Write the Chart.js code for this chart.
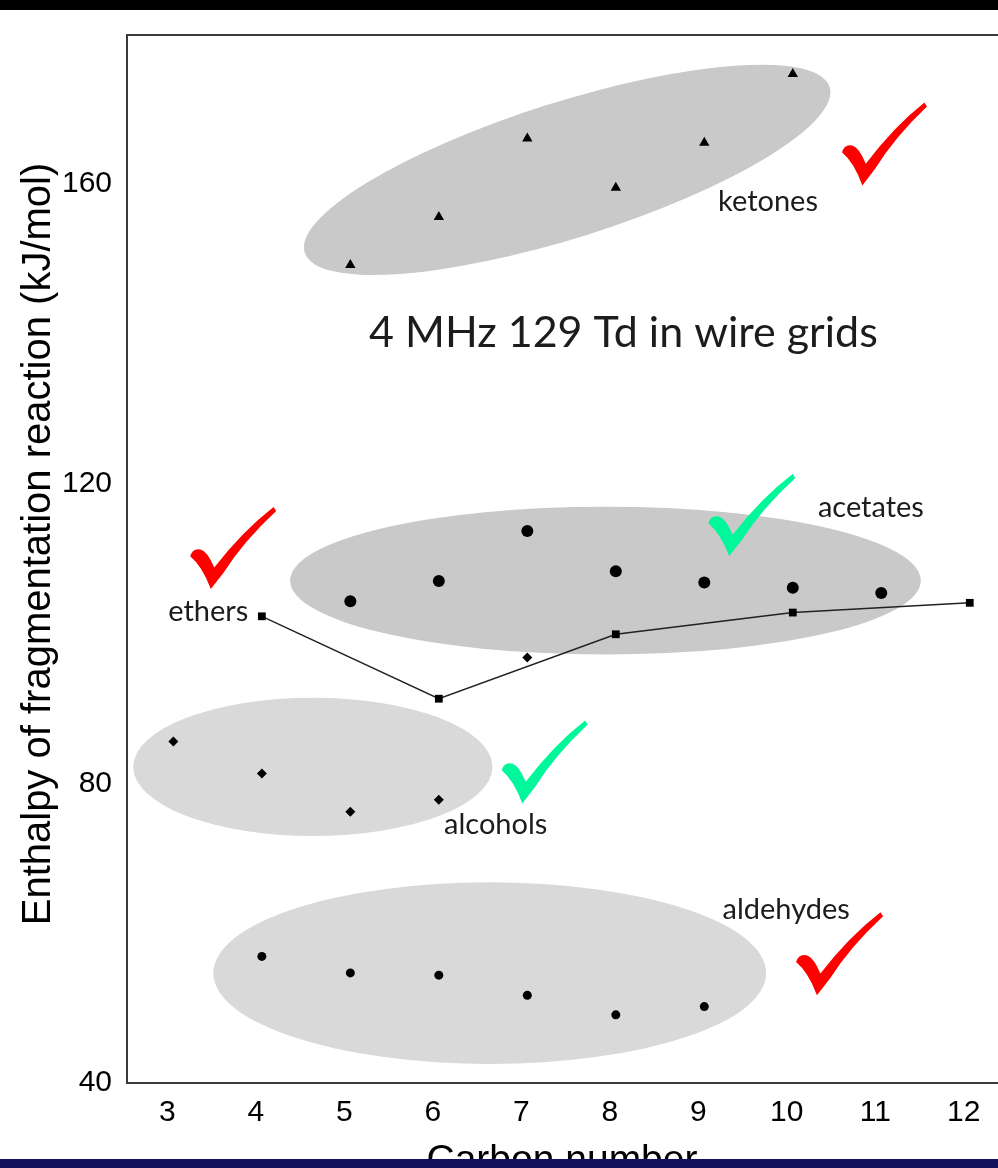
<!DOCTYPE html>
<html>
<head>
<meta charset="utf-8">
<title>Enthalpy of fragmentation reaction</title>
<script src="https://cdn.jsdelivr.net/npm/chart.js@4.4.0/dist/chart.umd.min.js"></script>
<style>
  html, body { margin: 0; padding: 0; background: #fff; overflow: hidden; }
  body { width: 998px; height: 1168px; position: relative; }
  #chart { position: absolute; left: 0; top: 0; }
  .top-bar { position: absolute; left: 0; top: 0; width: 998px; height: 10px; background: #000; }
  .bottom-bar { position: absolute; left: 0; bottom: 0; width: 998px; height: 9px; background: #12125c; }
</style>
</head>
<body>
<canvas id="chart" width="1020" height="1168"></canvas>
<div class="top-bar"></div>
<div class="bottom-bar"></div>
<script>
"use strict";

// carbon number vs enthalpy of fragmentation (kJ/mol), one pair of arrays per family
const ketoneC = [5, 6, 7, 8, 9, 10];
const ketoneH = [149.2, 155.6, 166.1, 159.5, 165.5, 174.7];

const acetateC = [5, 6, 7, 8, 9, 10, 11];
const acetateH = [104.3, 107.0, 113.7, 108.3, 106.8, 106.1, 105.4];

const etherC = [4, 6, 8, 10, 12];
const etherH = [102.3, 91.3, 99.9, 102.8, 104.1];

const alcoholC = [3, 4, 5, 6, 7];
const alcoholH = [85.6, 81.3, 76.2, 77.8, 96.8];

const aldehydeC = [4, 5, 6, 7, 8, 9];
const aldehydeH = [56.9, 54.7, 54.4, 51.7, 49.1, 50.2];

const xTicks = [3, 4, 5, 6, 7, 8, 9, 10, 11, 12];
const yTicks = [40, 80, 120, 160];

const xTitle = "Carbon number";
const yTitle = "Enthalpy of fragmentation reaction (kJ/mol)";

// shaded groups: centre in data units, half axes in x / y units, tilt in degrees
const groups = [
  { cx: 7.45, cy: 161.9, ax: 3.11, by: 9.07, tilt: -17.5, fill: "#c9c9c9" },
  { cx: 7.883, cy: 107.07, ax: 3.564, by: 9.87, tilt: 0, fill: "#c9c9c9" },
  { cx: 4.576, cy: 82.2, ax: 2.03, by: 9.23, tilt: 0, fill: "#d9d9d9" },
  { cx: 6.575, cy: 54.67, ax: 3.124, by: 12.13, tilt: 0, fill: "#d9d9d9" }
];

// text notes, centred on a data position
const notes = [
  { text: "ketones", x: 9.72, y: 157.7, size: 29 },
  { text: "4 MHz 129 Td in wire grids", x: 8.086, y: 140.1, size: 43 },
  { text: "acetates", x: 10.883, y: 116.8, size: 29 },
  { text: "ethers", x: 3.395, y: 102.9, size: 29 },
  { text: "alcohols", x: 6.643, y: 74.5, size: 29 },
  { text: "aldehydes", x: 9.925, y: 63.2, size: 29 }
];

// check marks: top-left corner in data units, box size in px
const checkMarks = [
  { x: 10.556, y: 170.9, w: 85, h: 83, color: "#ff0000" },
  { x: 3.19, y: 116.9, w: 86, h: 82, color: "#ff0000" },
  { x: 9.045, y: 121.3, w: 87, h: 82, color: "#00f79a" },
  { x: 6.71, y: 88.4, w: 86, h: 83, color: "#00f79a" },
  { x: 10.037, y: 62.8, w: 87, h: 83, color: "#ff0000" }
];

const toPoints = (xs, ys) => xs.map((x, i) => ({ x: x, y: ys[i] }));

function drawCheck(ctx, left, top, w, h, color) {
  const P = (u, v) => [left + u * w, top + v * h];
  ctx.save();
  ctx.fillStyle = color;
  ctx.beginPath();
  ctx.moveTo(...P(0, 0.6));
  ctx.quadraticCurveTo(...P(0.03, 0.5), ...P(0.12, 0.52));
  ctx.quadraticCurveTo(...P(0.2, 0.54), ...P(0.28, 0.74));
  ctx.quadraticCurveTo(...P(0.6, 0.3), ...P(0.97, 0));
  ctx.lineTo(...P(1, 0.05));
  ctx.quadraticCurveTo(...P(0.62, 0.42), ...P(0.39, 0.8));
  ctx.lineTo(...P(0.24, 1));
  ctx.quadraticCurveTo(...P(0.14, 0.72), ...P(0, 0.6));
  ctx.closePath();
  ctx.fill();
  ctx.restore();
}

const decorations = {
  id: "decorations",
  beforeDatasetsDraw(chart) {
    const ctx = chart.ctx;
    const x = chart.scales.x;
    const y = chart.scales.y;
    const pxX = x.getPixelForValue(1) - x.getPixelForValue(0);
    const pxY = y.getPixelForValue(0) - y.getPixelForValue(1);
    ctx.save();
    groups.forEach((g) => {
      ctx.fillStyle = g.fill;
      ctx.beginPath();
      ctx.ellipse(x.getPixelForValue(g.cx), y.getPixelForValue(g.cy),
        g.ax * pxX, g.by * pxY, g.tilt * Math.PI / 180, 0, Math.PI * 2);
      ctx.fill();
    });
    ctx.restore();
  },
  afterDraw(chart) {
    const ctx = chart.ctx;
    const area = chart.chartArea;
    const x = chart.scales.x;
    const y = chart.scales.y;

    // plot frame
    ctx.save();
    ctx.strokeStyle = "#3a3a3a";
    ctx.lineWidth = 2;
    ctx.strokeRect(area.left, area.top, area.right - area.left, area.bottom - area.top);

    // notes
    ctx.fillStyle = "#1c1c1c";
    ctx.textAlign = "center";
    ctx.textBaseline = "middle";
    notes.forEach((n) => {
      ctx.font = n.size + "px Lato, 'Open Sans', sans-serif";
      ctx.fillText(n.text, x.getPixelForValue(n.x), y.getPixelForValue(n.y));
    });

    checkMarks.forEach((c) => {
      drawCheck(ctx, x.getPixelForValue(c.x), y.getPixelForValue(c.y), c.w, c.h, c.color);
    });

    // axis titles
    ctx.fillStyle = "#000";
    ctx.textBaseline = "alphabetic";
    ctx.font = "39px 'Liberation Sans', Arial, sans-serif";
    ctx.fillText(xTitle, 562, 1172);

    ctx.translate(50, 544);
    ctx.rotate(-Math.PI / 2);
    ctx.font = "40px 'Liberation Sans', Arial, sans-serif";
    ctx.fillText(yTitle, 0, 0);
    ctx.restore();
  }
};

const tickFont = { family: "'Liberation Sans', Arial, sans-serif", size: 30 };

new Chart(document.getElementById("chart").getContext("2d"), {
  type: "scatter",
  data: {
    datasets: [
      {
        label: "ketones",
        data: toPoints(ketoneC, ketoneH),
        pointStyle: "triangle",
        pointRadius: 6,
        pointBackgroundColor: "#000",
        pointBorderColor: "#000",
        pointBorderWidth: 0
      },
      {
        label: "acetates",
        data: toPoints(acetateC, acetateH),
        pointStyle: "circle",
        pointRadius: 6,
        pointBackgroundColor: "#000",
        pointBorderColor: "#000",
        pointBorderWidth: 0
      },
      {
        label: "ethers",
        data: toPoints(etherC, etherH),
        showLine: true,
        borderColor: "#222",
        borderWidth: 1.5,
        pointStyle: "rect",
        pointRadius: 5.5,
        pointBackgroundColor: "#000",
        pointBorderColor: "#000",
        pointBorderWidth: 0
      },
      {
        label: "alcohols",
        data: toPoints(alcoholC, alcoholH),
        pointStyle: "rectRot",
        pointRadius: 5,
        pointBackgroundColor: "#000",
        pointBorderColor: "#000",
        pointBorderWidth: 0
      },
      {
        label: "aldehydes",
        data: toPoints(aldehydeC, aldehydeH),
        pointStyle: "circle",
        pointRadius: 4.5,
        pointBackgroundColor: "#000",
        pointBorderColor: "#000",
        pointBorderWidth: 0
      }
    ]
  },
  options: {
    responsive: false,
    animation: false,
    devicePixelRatio: 1,
    layout: { padding: { top: 35, right: 5, left: 0, bottom: 0 } },
    plugins: {
      legend: { display: false },
      tooltip: { enabled: false }
    },
    scales: {
      x: {
        type: "linear",
        min: 2.476,
        max: 12.5,
        grid: { display: false, drawTicks: false },
        border: { display: false },
        afterBuildTicks: (s) => { s.ticks = xTicks.map((v) => ({ value: v })); },
        afterFit: (s) => { s.height = 85; },
        ticks: { font: tickFont, color: "#000", padding: 12, labelOffset: -6, maxRotation: 0, autoSkip: false }
      },
      y: {
        type: "linear",
        min: 40,
        max: 179.9,
        grid: { display: false, drawTicks: false },
        border: { display: false },
        afterBuildTicks: (s) => { s.ticks = yTicks.map((v) => ({ value: v })); },
        afterFit: (s) => { s.width = 127; },
        ticks: { font: tickFont, color: "#000", padding: 15, autoSkip: false }
      }
    }
  },
  plugins: [decorations]
});
</script>
</body>
</html>
